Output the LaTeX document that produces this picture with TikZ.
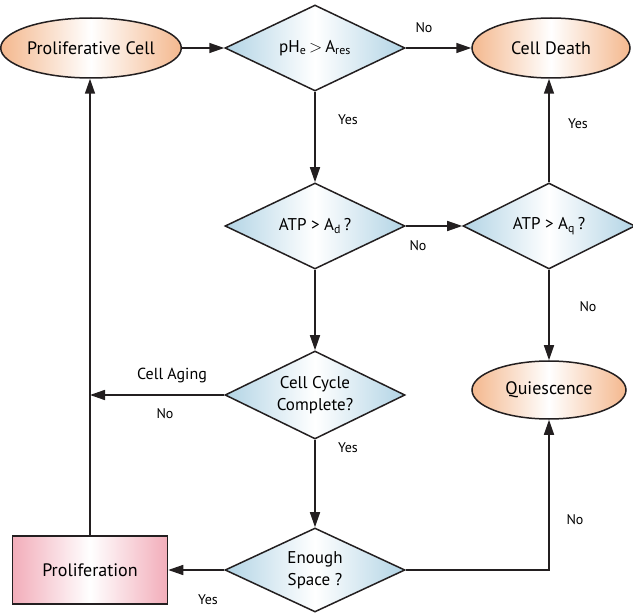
\documentclass[tikz,border=0pt]{standalone}
\usepackage{fontspec}
\setmainfont{PT Sans}
\usetikzlibrary{arrows.meta, shapes.geometric}
\definecolor{cellpeach}{HTML}{F4B88E}
\definecolor{cellblue}{HTML}{B2D4E5}
\definecolor{cellpink}{HTML}{F2ADBA}
\definecolor{lineblack}{HTML}{231F20}

\begin{document}
\begin{tikzpicture}[x=1pt, y=-1pt,
    state/.style={ellipse, draw=lineblack, line width=1.5pt, left color=cellpeach, right color=cellpeach, middle color=white, minimum width=158pt, minimum height=60pt, inner sep=0pt, font=\fontsize{18}{21}\selectfont},
    decide/.style={diamond, draw=lineblack, line width=1.5pt, left color=cellblue, right color=cellblue, middle color=white, aspect=2.1, minimum width=180pt, minimum height=86pt, inner sep=0pt, align=center, font=\fontsize{17}{22}\selectfont},
    action/.style={rectangle, draw=lineblack, line width=1.5pt, left color=cellpink, right color=cellpink, middle color=white, minimum width=155pt, minimum height=68pt, inner sep=0pt, font=\fontsize{18}{21}\selectfont},
    lbl/.style={font=\fontsize{14}{16}\selectfont, inner sep=0pt},
    flow/.style={-{Triangle[length=15pt,width=10pt]}, line width=1.5pt, draw=lineblack},
  ]
  \useasboundingbox (0,0) rectangle (633,615);
  % states and decisions
  \node[state] (pc) at (91,48) {Proliferative Cell};
  \node[decide] (ph) at (315,48) {pH\textsubscript{e}$\,>\,$A\textsubscript{res}};
  \node[state] (cd) at (551,48) {Cell Death};
  \node[decide] (atpd) at (315,226) {ATP > A\textsubscript{d}\,?};
  \node[decide, minimum width=172pt] (atpq) at (549,226) {ATP > A\textsubscript{q}\,?};
  \node[decide, minimum height=88pt] (cc) at (315,395) {Cell Cycle\\Complete?};
  \node[state, minimum width=154pt, minimum height=58pt] (qs) at (549,390) {Quiescence};
  \node[decide, minimum height=84pt] (es) at (315,570) {Enough\\Space ?};
  \node[action] (pr) at (90,570) {Proliferation};
  % connectors
  \draw[flow] (pc) -- (ph);
  \draw[flow] (ph) -- (cd);
  \draw[flow] (ph) -- (atpd);
  \draw[flow] (atpd) -- (atpq);
  \draw[flow] (atpq.north) -- (atpq.north |- cd.south);
  \draw[flow] (atpq.south) -- (atpq.south |- qs.north);
  \draw[flow] (atpd) -- (cc);
  \draw[flow] (cc) -- (es);
  \draw[flow] (es) -- (pr);
  \draw[flow] (es.east) -| (qs.south);
  \draw[flow] (pr.north) -- (pr.north |- pc.south);
  \coordinate (agejoin) at (pr.north |- cc.west);
  \draw[flow] (cc.west) -- (agejoin);
  % labels
  \node[lbl] (l1) at (424,28) {No};
  \node[lbl] (l2) at (348,120) {Yes};
  \node[lbl] (l3) at (418,246) {No};
  \node[lbl] (l4) at (578,124) {Yes};
  \node[lbl] (l5) at (588,307) {No};
  \node[lbl, font=\fontsize{16}{19}\selectfont] (l6) at (172,376) {Cell Aging};
  \node[lbl] (l7) at (165,414) {No};
  \node[lbl] (l8) at (348,448) {Yes};
  \node[lbl] (l9) at (575,520) {No};
  \node[lbl] (l10) at (208,600) {Yes};
\end{tikzpicture}
\end{document}
